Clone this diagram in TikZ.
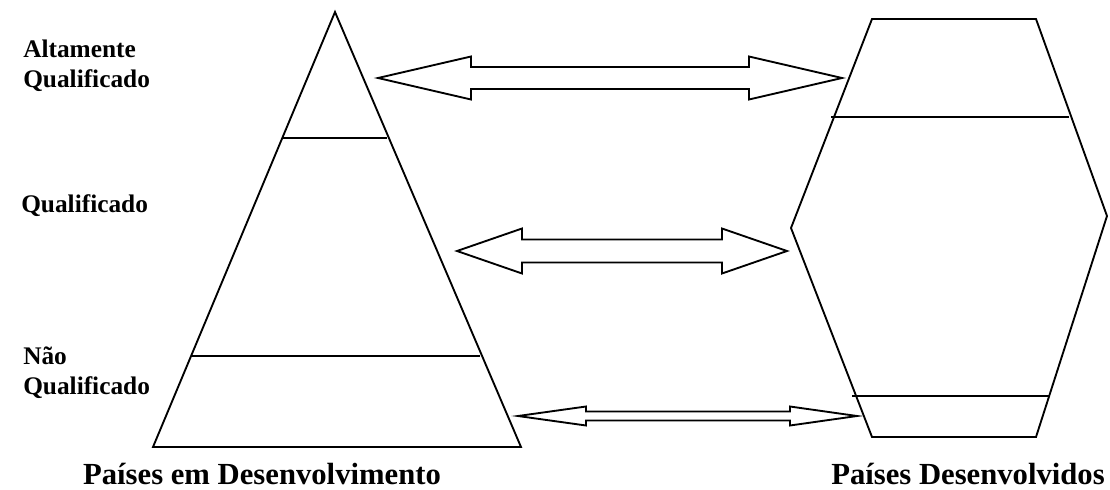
\documentclass[tikz,border=0pt]{standalone}
\usepackage{fontspec}
\setmainfont{Liberation Serif}
\begin{document}
% coordinates are pixel-like units, y grows downward
\begin{tikzpicture}[x=0.75pt,y=-0.75pt,
  outline/.style={draw=black,line width=1.4pt,line join=miter},
  level/.style={font=\bfseries\fontsize{19}{22}\selectfont,anchor=north west,align=left,inner sep=0pt},
  title/.style={font=\bfseries\fontsize{23}{27}\selectfont,anchor=base,inner sep=0pt}]
\useasboundingbox (0,0) rectangle (1110,489);

% left/right tips, head bases, centre line, head and shaft half heights
\newcommand{\dblarrow}[7]{%
  \draw[outline] (#1,#5) -- (#2,#5-#6) -- (#2,#5-#7) -- (#3,#5-#7) -- (#3,#5-#6)
    -- (#4,#5) -- (#3,#5+#6) -- (#3,#5+#7) -- (#2,#5+#7) -- (#2,#5+#6) -- cycle;}

% pyramid of developing countries
\coordinate (apex) at (335,12);
\coordinate (bl) at (153,447);
\coordinate (br) at (521,447);
\draw[outline] (apex) -- (br) -- (bl) -- cycle;
\coordinate (t1l) at (283,138); \coordinate (t1r) at (387,138);
\coordinate (t2l) at (191,356); \coordinate (t2r) at (480,356);
\draw[outline] (t1l) -- (t1r);
\draw[outline] (t2l) -- (t2r);

% hexagon of developed countries
\coordinate (h1) at (872,19);
\coordinate (h2) at (1036,19);
\coordinate (h3) at (1107,216);
\coordinate (h4) at (1036,437);
\coordinate (h5) at (872,437);
\coordinate (h6) at (791,228);
\draw[outline] (h1) -- (h2) -- (h3) -- (h4) -- (h5) -- (h6) -- cycle;
\coordinate (k1l) at (831,117); \coordinate (k1r) at (1069,117);
\coordinate (k2l) at (852,396); \coordinate (k2r) at (1050,396);
\draw[outline] (k1l) -- (k1r);
\draw[outline] (k2l) -- (k2r);

% two-headed block arrows between the levels
\dblarrow{378}{471}{749}{842}{78}{21.5}{11}
\dblarrow{457}{522}{722}{787}{251}{22.5}{11.5}
\dblarrow{518}{586}{790}{857}{416}{9.5}{4.5}

% level labels
\node[level] (lab1) at (23,40) {Altamente\\Qualificado};
\node[level] (lab2) at (21,194) {Qualificado};
\node[level] (lab3) at (23,347) {Não\\Qualificado};

% titles
\node[title] (tit1) at (262,484) {Países em Desenvolvimento};
\node[title] (tit2) at (968,484) {Países Desenvolvidos};
\end{tikzpicture}
\end{document}
